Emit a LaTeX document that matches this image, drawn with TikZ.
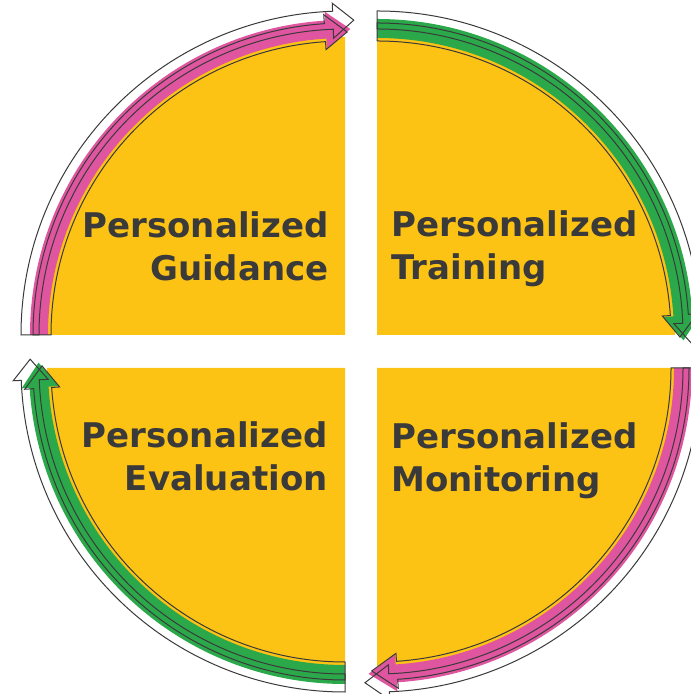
\documentclass[tikz,border=0pt]{standalone}
\usepackage{fontspec}
\usepackage{tikz}
\usetikzlibrary{positioning}

\newfontfamily\quadfont{DejaVu Sans}
\definecolor{petal}{HTML}{FDC314}
\definecolor{pinkband}{HTML}{E055A0}
\definecolor{greenband}{HTML}{2BA84A}
\definecolor{inkgray}{HTML}{3A3A3A}

% quarter disc, corner at the local origin
\newcommand{\quarterpetal}{%
  \fill[petal] (0,0) -- (180:298) arc[start angle=180, end angle=90, radius=298] -- cycle;}
% curved band arrow: style, inner r, outer r, head inner r, head outer r, head angle, tip angle
\newcommand{\bandarrow}[7]{%
  \path[#1] (180:#3) arc[start angle=180, end angle=#6, radius=#3] -- (#6:#5)
    -- (#7:{(#2+#3)/2}) -- (#6:#4) -- (#6:#2)
    arc[start angle=#6, end angle=180, radius=#2] -- cycle;}

\begin{document}
\begin{tikzpicture}[
    x=0.5pt, y=0.5pt,
    quadtext/.style={font=\quadfont\bfseries\fontsize{17}{21.5}\selectfont,
                     text=inkgray, inner sep=0pt},
    outline/.style={draw=inkgray, line width=0.5pt, line join=miter}
]
    \useasboundingbox (0,0) rectangle (690,694);

    % Guidance
    \begin{scope}[shift={(345,359)}]
        \quarterpetal
        \bandarrow{fill=pinkband}{297}{315}{287}{324}{93.6}{89}
        \bandarrow{outline}{306}{324}{297}{332}{92.2}{88.4}
        \bandarrow{outline}{294}{312}{286}{321}{93.8}{89.6}
    \end{scope}

    % Training
    \begin{scope}[shift={(377,359)}, rotate=-90]
        \quarterpetal
        \bandarrow{fill=greenband}{297}{316}{287}{324}{93.6}{89}
        \bandarrow{outline}{306}{324}{297}{332}{92.2}{88.4}
        \bandarrow{outline}{294}{312}{286}{321}{93.8}{89.6}
    \end{scope}

    % Monitoring
    \begin{scope}[shift={(377,326)}, rotate=-180]
        \quarterpetal
        \bandarrow{fill=pinkband}{297}{315}{287}{324}{93.6}{88.4}
        \bandarrow{outline}{306}{324}{297}{332}{92.2}{87.8}
        \bandarrow{outline}{294}{312}{286}{321}{93.8}{89}
    \end{scope}

    % Evaluation
    \begin{scope}[shift={(345,326)}, rotate=90]
        \quarterpetal
        \bandarrow{fill=greenband}{297}{316}{287}{324}{93.6}{89}
        \bandarrow{outline}{306}{324}{297}{332}{92.2}{88.4}
        \bandarrow{outline}{294}{312}{286}{321}{93.8}{89.6}
    \end{scope}

    % Labels
    \node[quadtext, anchor=base east, align=right] (guidance) at (329,413) {Personalized\\Guidance};
    \node[quadtext, anchor=base west, align=left] (training) at (391,414) {Personalized\\Training};
    \node[quadtext, anchor=base west, align=left] (monitoring) at (391,202) {Personalized\\Monitoring};
    \node[quadtext, anchor=base east, align=right] (evaluation) at (328,203) {Personalized\\Evaluation};

\end{tikzpicture}
\end{document}
